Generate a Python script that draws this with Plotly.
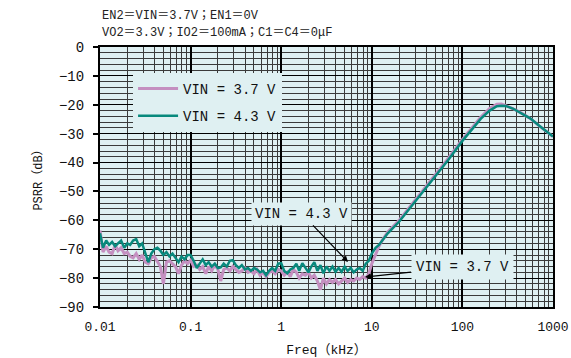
import plotly.graph_objects as go

# Frequencies (kHz), low-frequency noisy region (30 points / decade)
freq_low = [
    0.0100, 0.0108, 0.0117, 0.0126, 0.0136, 0.0147, 0.0158, 0.0171, 0.0185,
    0.0200, 0.0215, 0.0232, 0.0251, 0.0271, 0.0292, 0.0316, 0.0341, 0.0368, 0.0398,
    0.0430, 0.0464, 0.0501, 0.0541, 0.0584, 0.0631, 0.0681, 0.0736, 0.0794, 0.0858, 0.0926,
    0.100, 0.108, 0.117, 0.126, 0.136, 0.147, 0.158, 0.171, 0.185,
    0.200, 0.215, 0.232, 0.251, 0.271, 0.292, 0.316, 0.341, 0.368, 0.398,
    0.430, 0.464, 0.501, 0.541, 0.584, 0.631, 0.681, 0.736, 0.794, 0.858, 0.926,
    1.00, 1.08, 1.17, 1.26, 1.36, 1.47, 1.58, 1.71, 1.85,
    2.00, 2.15, 2.32, 2.51, 2.71, 2.92, 3.16, 3.41, 3.68, 3.98,
    4.30, 4.64, 5.01, 5.41, 5.84, 6.31, 6.81, 7.36, 7.94, 8.58, 9.26,
]
freq_high = [10, 11, 12, 13, 15, 20, 30, 40, 50, 70, 100, 130, 160, 200, 240,
             270, 300, 360, 450, 560, 700, 850, 1000]

# PSRR (dB), VIN = 4.3 V
psrr_43_low = [
    -64.5, -69.5, -67, -68.5, -67.5, -69, -68, -67, -69.5,
    -68, -68.5, -67, -66.5, -69, -68, -71, -74.5, -71.5, -70,
    -69.5, -70.5, -72, -71, -72.5, -71.5, -73, -74.5, -72.5, -73.5, -72,
    -72, -74, -76.5, -75, -73.5, -75.5, -74.5, -76, -75,
    -76.5, -76.3, -75, -76, -74, -73.8, -75.5, -76.5, -75.5, -77,
    -76.5, -77.5, -76.5, -77, -78, -77.5, -79, -77.5, -76.5, -77.5, -75,
    -74.8, -77.5, -78.3, -77, -76.5, -75, -77.5, -74.8, -76.5,
    -78, -76, -74.5, -77.5, -75.5, -78.3, -76, -77.5, -76, -77.8,
    -76.5, -77.8, -76, -77.5, -76.5, -78, -77, -76.5, -77.5, -75, -74,
]
psrr_43_high = [-71.5, -69.5, -68.5, -67, -64.5, -60.5, -53.5, -48.5, -45, -39,
                -32.5, -28, -24.8, -22, -20.5, -20.3, -20.4, -21.3, -22.9, -24.7,
                -27.2, -29.3, -31]

# PSRR (dB), VIN = 3.7 V
psrr_37_low = [
    -63.5, -71, -69, -71, -71.5, -68.5, -70.5, -69.5, -71.5,
    -71, -72.5, -73, -71.5, -73.5, -72, -74.5, -75, -73, -72.5,
    -74.5, -76, -82, -74.5, -74, -75, -76, -78.5, -75.5, -74, -75,
    -73.8, -76, -75.5, -77, -76, -78.5, -76, -77.5, -75.5,
    -77, -81, -77, -76.5, -77.5, -76, -77, -78, -77.5, -76.5,
    -78, -77.5, -78.5, -77, -79, -78, -79.5, -78, -77.5, -78.5, -77,
    -77.5, -79, -78, -79.5, -77, -78, -80, -78.5, -79,
    -78, -80, -79, -81, -84, -80, -82, -80.5, -81.5, -80.5,
    -82, -81, -80, -81.5, -80.5, -81, -80, -80.5, -79.5, -80, -78.5,
]
psrr_37_high = [-75, -71.5, -69, -67, -64, -60, -53, -48, -44.5, -38.5,
                -32, -27.5, -24.2, -21.3, -19.8, -19.7, -20.2, -21.3, -22.9, -24.7,
                -27.2, -29.3, -31]

x_ticks = [0.01, 0.1, 1, 10, 100, 1000]
x_ticktext = ["0.01", "0.1", "1", "10", "100", "1000"]
y_ticks = [0, -10, -20, -30, -40, -50, -60, -70, -80, -90]

freq = freq_low + freq_high
psrr_37 = psrr_37_low + psrr_37_high
psrr_43 = psrr_43_low + psrr_43_high

BG = "#dff0f2"
PINK = "#c48fc0"
TEAL = "#08897d"
FONT = "Liberation Mono, Noto Sans CJK JP, DejaVu Sans Mono"

fig = go.Figure()
fig.add_trace(go.Scatter(x=freq, y=psrr_37, mode="lines", name="VIN = 3.7 V",
                         legendgroup="a", line=dict(color=PINK, width=3)))
fig.add_trace(go.Scatter(x=freq, y=psrr_43, mode="lines", name="VIN = 4.3 V",
                         legendgroup="b", line=dict(color=TEAL, width=2.5)))

fig.update_layout(
    width=571, height=358,
    margin=dict(l=100, r=18, t=47, b=51, autoexpand=False),
    paper_bgcolor="white", plot_bgcolor=BG,
    font=dict(family=FONT, size=12, color="#111"),
    showlegend=True,
    legend=dict(x=0.073, y=0.9, xanchor="left", yanchor="top",
                bgcolor=BG, borderwidth=0, tracegroupgap=6,
                font=dict(family=FONT, size=14, color="#111"),
                itemwidth=40),
)

fig.update_xaxes(
    type="log", range=[-2, 3], automargin=False,
    tickvals=x_ticks, ticktext=x_ticktext,
    tickfont=dict(family=FONT, size=13, color="#111"),
    ticks="", ticklabelstandoff=6,
    showgrid=True, gridcolor="black", gridwidth=1.6,
    minor=dict(dtick="D1", showgrid=True, gridcolor="#3a3a3a", gridwidth=1.2, ticks=""),
    showline=True, linecolor="black", linewidth=2, mirror=True,
    title=dict(text="Freq（kHz）", font=dict(family=FONT, size=13, color="#111"), standoff=14),
    zeroline=False,
)
fig.update_yaxes(
    range=[-90, 0], tickvals=y_ticks, automargin=False,
    tickfont=dict(family=FONT, size=14, color="#111"),
    ticks="outside", ticklen=5, tickcolor="black", tickwidth=1.5,
    ticklabelstandoff=6,
    showgrid=True, gridcolor="black", gridwidth=1.2,
    minor=dict(dtick=2, showgrid=True, gridcolor="#3a3a3a", gridwidth=1, ticks=""),
    showline=True, linecolor="black", linewidth=2, mirror=True,
    title=dict(text="PSRR（dB）", font=dict(family=FONT, size=12, color="#111"), standoff=14),
    zeroline=False,
)

fig.add_annotation(xref="paper", yref="paper", x=0, y=1.0, yshift=31,
                   xanchor="left", yanchor="middle", showarrow=False,
                   text="EN2＝VIN＝3.7V；EN1＝0V",
                   font=dict(family=FONT, size=12, color="#222"))
fig.add_annotation(xref="paper", yref="paper", x=0, y=1.0, yshift=14,
                   xanchor="left", yanchor="middle", showarrow=False,
                   text="VO2＝3.3V；IO2＝100mA；C1＝C4＝0μF",
                   font=dict(family=FONT, size=12, color="#222"))

fig.add_annotation(x=0.737, y=-74.4, xref="x", yref="y", text="VIN = 4.3 V",
                   showarrow=True, arrowhead=2, arrowsize=1, arrowwidth=1.2,
                   arrowcolor="black", ax=-46, ay=-48,
                   bgcolor=BG, borderpad=3,
                   font=dict(family=FONT, size=14, color="#111"))
fig.add_annotation(x=0.925, y=-79.6, xref="x", yref="y", text="VIN = 3.7 V",
                   showarrow=True, arrowhead=2, arrowsize=1, arrowwidth=1.2,
                   arrowcolor="black", ax=97, ay=-10,
                   bgcolor=BG, borderpad=4,
                   font=dict(family=FONT, size=14, color="#111"))

fig.write_html("out.html")
